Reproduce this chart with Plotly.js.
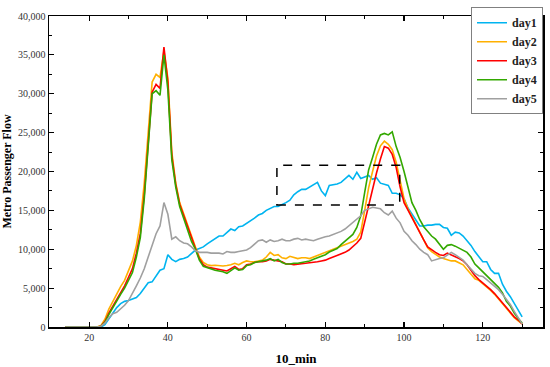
<!DOCTYPE html>
<html>
<head>
<meta charset="utf-8">
<script src="https://cdn.plot.ly/plotly-3.0.1.min.js"></script>
<style>html,body{margin:0;padding:0;background:#fff;}#chart{width:550px;height:367px;}</style>
</head>
<body>
<div id="chart"></div>
<script>
// x positions (10-minute intervals)
const xStart = 14, xEnd = 130;
const timeSlots = [];
for (let i = xStart; i <= xEnd; i++) timeSlots.push(i);

// values for x = 14..22 are all zero (before service starts)
const lead = [0,0,0,0,0,0,0,0,0];

// x = 23 .. 130
const day1 = lead.concat([
  0,300,1000,1800,2500,3000,3300,3400,3600,3800,4300,5000,5700,5800,6500,7300,7500,
  9300,8700,8400,8700,8800,9000,9400,9900,10100,10300,10700,
  11000,11300,11700,11700,12100,12600,12400,12900,13000,13300,13600,14000,14400,14600,15000,15300,15500,15500,15700,16000,
  16300,17000,17400,17700,17700,18000,18200,18600,17500,16900,18200,18300,18400,18600,19100,19500,19000,19900,19100,19300,
  19500,19000,19200,18500,18300,18200,17200,17200,17000,16500,
  15300,14500,13800,13000,13000,13100,13100,13200,13200,12800,12700,11800,12200,12100,11700,11100,10500,9700,9000,8400,
  8400,7400,6900,6900,5500,4600,3900,3000,2200,1300
]);
const day2 = lead.concat([
  200,1000,2300,3300,4200,5200,6000,7200,8500,10500,13500,18500,25000,31500,32500,32100,35500,
  32000,22500,18500,16000,14500,13000,11500,10300,9000,8300,8000,
  7900,7950,7900,7850,7900,8000,8200,8000,8300,8500,8400,8400,8500,8600,9000,9600,9200,9300,8900,8800,
  9100,8900,8800,8900,8900,8800,9000,9200,9400,9600,9800,10000,10150,10300,10600,10800,11000,11300,12200,15000,
  17900,20000,22000,23300,23900,23500,22800,21200,18900,16500,
  15200,14200,13300,12300,11400,10200,9700,9300,9000,8800,8600,8500,8500,8300,8000,7400,6800,6200,6000,5600,
  5100,4700,4200,3600,3000,2400,1800,1200,800,400
]);
const day3 = lead.concat([
  100,700,1800,2700,3600,4500,5300,6400,7500,9500,12000,17000,23500,30200,31200,30700,36000,
  31500,22000,18300,15800,14300,12800,11300,10100,8800,8000,7700,
  7600,7500,7400,7300,7200,7500,7800,7400,7500,8000,8100,8300,8400,8400,8500,8700,8600,8500,8400,8100,
  8100,8000,8100,8150,8200,8250,8300,8400,8500,8600,8800,9000,9200,9350,9600,9900,10300,10800,11400,13500,
  15900,17900,19800,21600,23200,23000,22200,20500,18000,16000,
  15000,14000,13000,12000,11200,10300,9900,9600,9300,9200,9500,9300,9000,8800,8500,8000,7300,6600,6100,5700,
  5200,4800,4300,3700,3100,2400,1800,1300,900,400
]);
const day4 = lead.concat([
  100,600,1600,2500,3300,4200,5000,6000,7000,9000,11500,16500,23000,30000,30400,29800,35000,
  30500,21500,18000,15500,14000,12500,11000,10000,8600,7800,7600,
  7500,7300,7200,7100,6900,7300,7600,7300,7400,7900,8000,8300,8400,8500,8600,8800,8500,8700,8300,8100,
  8100,8200,8200,8300,8400,8500,8700,8900,9100,9300,9650,9900,10100,10600,11000,11400,11900,12800,14300,17300,
  20200,21800,23500,24700,24900,24700,25100,23200,21800,20000,
  18000,16000,15000,13800,12900,12300,11700,11300,10700,10000,10500,10600,10400,10100,9900,9600,9000,8100,7600,7100,
  6700,6200,5700,5100,4400,3300,2700,1800,1100,500
]);
const day5 = lead.concat([
  100,500,1200,1700,1900,2300,2800,3400,4300,5300,6300,7500,9000,10500,12000,13000,16000,
  14500,11300,11600,11100,10800,10700,10300,9800,9600,9600,9600,
  9500,9500,9500,9400,9700,9600,9600,9700,9800,9900,10200,10700,11100,11200,10900,11200,11000,11100,11300,11100,
  11100,11300,11400,11200,11300,11200,11100,11300,11500,11600,11700,11900,12000,12300,12600,13000,13400,13800,14300,15000,
  15200,15400,15300,15200,14700,14400,14900,14000,13400,12300,
  11800,11100,10600,10000,9600,9300,8500,8700,8800,8900,9300,9600,9300,8900,8600,8000,7400,6900,6600,6500,
  6100,5700,5300,4800,4200,3500,2900,2000,1200,400
]);

const seriesNames = ['day1','day2','day3','day4','day5'];
const seriesValues = [day1, day2, day3, day4, day5];
const seriesColors = ['#00b4f0','#ffb000','#ff0000','#33a800','#a0a0a0'];

// highlighted window (dashed box)
const boxX = [67.7, 98.9];
const boxY = [15700, 20800];

const serif = "'Liberation Serif'";

const traces = seriesNames.map((n, i) => ({
  x: timeSlots, y: seriesValues[i], name: n, type: 'scatter', mode: 'lines',
  line: {color: seriesColors[i], width: 1.6}
}));

const layout = {
  width: 550, height: 367,
  margin: {l: 49, r: 7, t: 9, b: 40, pad: 0},
  paper_bgcolor: '#fff', plot_bgcolor: '#fff',
  font: {family: serif, size: 10, color: '#333'},
  showlegend: true,
  legend: {
    x: 1, xanchor: 'right', y: 1.028, yanchor: 'top',
    bgcolor: '#fff', bordercolor: '#808080', borderwidth: 1,
    font: {family: serif, size: 12, color: '#222', weight: 'bold'},
    tracegroupgap: 0, itemwidth: 30
  },
  xaxis: {
    range: [9.8, 135.3], tick0: 0, dtick: 20,
    showgrid: false, zeroline: false,
    showline: true, linecolor: '#000', linewidth: 1.5, mirror: 'ticks',
    ticks: 'inside', ticklen: 5, tickwidth: 1.2, tickcolor: '#000',
    minor: {dtick: 10, ticks: 'inside', ticklen: 3, tickwidth: 1, tickcolor: '#000', showgrid: false},
    tickfont: {family: serif, size: 10, color: '#333'},
    title: {text: '10_min', font: {family: serif, size: 13, color: '#000', weight: 'bold'}, standoff: 12}
  },
  yaxis: {
    range: [0, 40000], tick0: 0, dtick: 5000, tickformat: ',d',
    showgrid: false, zeroline: false,
    showline: true, linecolor: '#000', linewidth: 1.5, mirror: 'ticks',
    ticks: 'inside', ticklen: 5, tickwidth: 1.2, tickcolor: '#000',
    minor: {dtick: 2500, ticks: 'inside', ticklen: 3, tickwidth: 1, tickcolor: '#000', showgrid: false},
    tickfont: {family: serif, size: 10, color: '#333'},
    title: {text: 'Metro Passenger Flow', font: {family: serif, size: 12, color: '#000', weight: 'bold'}, standoff: 8}
  },
  shapes: [{
    type: 'rect', xref: 'x', yref: 'y',
    x0: boxX[0], x1: boxX[1], y0: boxY[0], y1: boxY[1],
    line: {color: '#000', width: 1.5, dash: 'dash'}, fillcolor: 'rgba(0,0,0,0)'
  }]
};

Plotly.newPlot('chart', traces, layout, {displayModeBar: false, staticPlot: true});
</script>
</body>
</html>
